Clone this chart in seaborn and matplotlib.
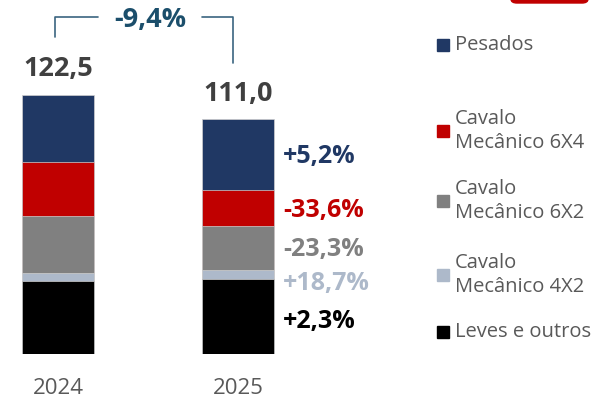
import numpy as np
import seaborn as sns
import matplotlib.pyplot as plt
from matplotlib.patches import FancyBboxPatch, Rectangle

years = ["2024", "2025"]
leves = [34.6, 35.4]
cm_4x2 = [3.8, 4.5]
cm_6x2 = [27.0, 20.7]
cm_6x4 = [25.4, 16.9]
pesados = [31.7, 33.5]
totals = ["122,5", "111,0"]
total_change = "-9,4%"
changes = ["+5,2%", "-33,6%", "-23,3%", "+18,7%", "+2,3%"]
series_names = ["Pesados", "Cavalo\nMecânico 6X4", "Cavalo\nMecânico 6X2",
                "Cavalo\nMecânico 4X2", "Leves e outros"]
colors = ["#203864", "#c00000", "#808080", "#adb9ca", "#000000"]

W, H = 592, 400
sns.set_theme(style="white")
plt.rcParams['font.family'] = ['Open Sans', 'DejaVu Sans']

fig = plt.figure(figsize=(W / 100, H / 100), dpi=100)


def px(x, y):
    return x / W, 1 - y / H


# axes: bottom at baseline pixel 354, spans full width
base = 354
scale = 2.114  # pixels per unit
ax = fig.add_axes([0, (H - base) / H, 1, base / H])

stack = np.array([leves, cm_4x2, cm_6x2, cm_6x4, pesados])
cum = np.cumsum(stack, axis=0)
# draw from tallest cumulative down so each layer overlays
for i in range(4, -1, -1):
    sns.barplot(x=years, y=cum[i], color=colors[4 - i], width=0.4,
                edgecolor="#d0d0d0", linewidth=0.5, saturation=1, ax=ax)

ax.set_xlim(-58 / 180, (W - 58) / 180)
ax.set_ylim(0, base / scale)
for s in ax.spines.values():
    s.set_visible(False)
ax.set_yticks([])
ax.set_xlabel("")
ax.set_ylabel("")
ax.tick_params(axis="x", length=0, pad=17, labelsize=16, labelcolor="#595959")

# totals above bars
tot = cum[-1]
for i, t in enumerate(totals):
    ax.text(i, tot[i] + 6, t, ha="center", va="bottom", fontsize=19.5,
            fontweight="bold", color="#404040")

# change labels next to 2025 bar
mids = cum - stack / 2
label_y = [mids[4][1] - 1.0, mids[3][1] - 1.3, mids[2][1] - 1.0,
           mids[1][1] - 4.2, mids[0][1] - 2.5]
for j, (lab, c) in enumerate(zip(changes, colors)):
    ax.text(1.25, label_y[j], lab, ha="left", va="center", fontsize=18,
            fontweight="bold", color=c)

# bracket with total change
bc = "#3b6580"
fig.add_artist(plt.Line2D(*zip(px(55, 37), px(55, 17), px(98, 17)),
                          color=bc, lw=1.2, transform=fig.transFigure))
fig.add_artist(plt.Line2D(*zip(px(202, 17), px(233, 17), px(233, 63)),
                          color=bc, lw=1.2, transform=fig.transFigure))
fig.text(*px(150, 20), total_change, ha="center", va="center", fontsize=19.5,
         fontweight="bold", color="#1b4e6b")

# legend drawn by hand
leg_y = [45, 131, 201, 275, 332]
for name, c, y in zip(series_names, colors, leg_y):
    x0, y0 = px(437, y + 6)
    fig.add_artist(Rectangle((x0, y0), 12 / W, 12 / H, color=c,
                             transform=fig.transFigure))
    fig.text(*px(455, y), name, ha="left", va="center", fontsize=14.5,
             color="#595959", linespacing=1.3)

# red tab at top right
x0, y0 = px(511, 3)
fig.add_artist(FancyBboxPatch((x0, y0), 77 / W, 10 / H,
                              boxstyle="round,pad=0,rounding_size=0.01",
                              color="#c00000", transform=fig.transFigure))

fig.savefig("out.png", dpi=100)
